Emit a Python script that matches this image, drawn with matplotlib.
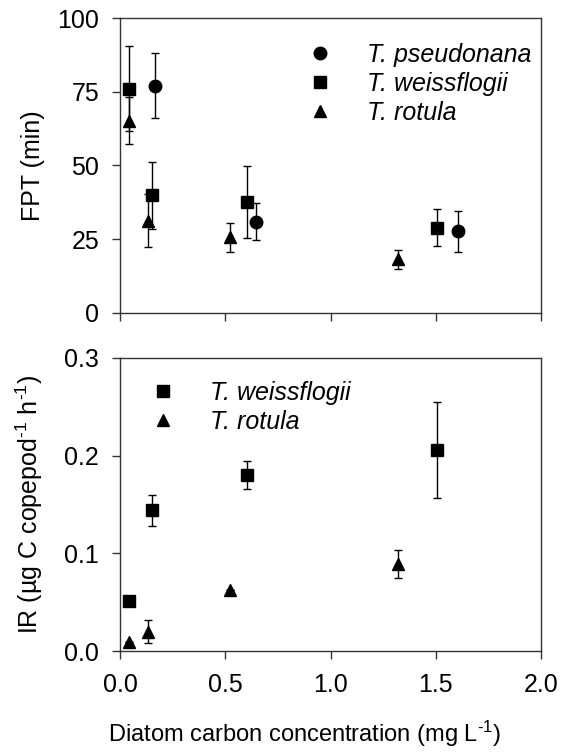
import matplotlib
matplotlib.use("Agg")
import matplotlib.pyplot as plt

plt.rcParams['font.family'] = ['Liberation Sans', 'DejaVu Sans']
plt.rcParams['mathtext.default'] = 'regular'

# --- FPT panel (top) ---
tp_x = [0.165, 0.648, 1.604]
tp_fpt = [77.1, 30.9, 27.6]
tp_fpt_err = [11.0, 6.2, 7.1]

tw_x = [0.043, 0.154, 0.605, 1.504]
tw_fpt = [76.0, 39.9, 37.5, 28.9]
tw_fpt_err = [14.4, 11.4, 12.2, 6.2]

tr_x = [0.043, 0.131, 0.524, 1.319]
tr_fpt = [65.2, 31.3, 25.6, 18.1]
tr_fpt_err = [8.0, 9.0, 4.8, 3.3]

# --- IR panel (bottom) ---
tw_ir = [0.051, 0.144, 0.1805, 0.206]
tw_ir_err = [0.0, 0.016, 0.0145, 0.049]
tr_ir = [0.0096, 0.020, 0.063, 0.089]
tr_ir_err = [0.0, 0.012, 0.0, 0.0145]

x_ticks = [0.0, 0.5, 1.0, 1.5, 2.0]
fpt_ticks = [0, 25, 50, 75, 100]
ir_ticks = [0.0, 0.1, 0.2, 0.3]

FS = 18
MS = 9
spine_col = '#333333'
HY = '\u2010'  # short hyphen used in the superscripts

fig = plt.figure(figsize=(5.66, 7.52), dpi=100)
ax1 = fig.add_axes([0.212, 0.584, 0.744, 0.392])
ax2 = fig.add_axes([0.212, 0.134, 0.744, 0.390])


def style_axes(ax):
    for s in ax.spines.values():
        s.set_color(spine_col)
        s.set_linewidth(1.0)
    ax.tick_params(direction='out', length=6, width=1, color=spine_col,
                   labelsize=FS, top=False, right=False)
    ax.tick_params(axis='x', pad=10)
    ax.tick_params(axis='y', pad=9)
    ax.set_xlim(0, 2.0)
    ax.set_xticks(x_ticks)


def series(ax, x, y, err, marker, label):
    ax.errorbar(x, y, yerr=err, fmt='none', ecolor='black', elinewidth=1,
                capsize=3, capthick=1, zorder=2)
    ax.plot(x, y, linestyle='none', marker=marker, color='black',
            markersize=MS, label=label, zorder=3)


series(ax1, tp_x, tp_fpt, tp_fpt_err, 'o', 'T. pseudonana')
series(ax1, tw_x, tw_fpt, tw_fpt_err, 's', 'T. weissflogii')
series(ax1, tr_x, tr_fpt, tr_fpt_err, '^', 'T. rotula')

style_axes(ax1)
ax1.set_ylim(0, 100)
ax1.set_yticks(fpt_ticks)
ax1.set_xticklabels([])
ax1.set_ylabel('FPT (min)', fontsize=FS)
ax1.yaxis.set_label_coords(-0.178, 0.5)
ax1.legend(loc='upper left', bbox_to_anchor=(0.446, 0.915), frameon=False,
           prop={'style': 'italic', 'size': FS},
           handlelength=1, handletextpad=1.38, labelspacing=0.2,
           borderpad=0, borderaxespad=0, numpoints=1)

series(ax2, tw_x, tw_ir, tw_ir_err, 's', 'T. weissflogii')
series(ax2, tr_x, tr_ir, tr_ir_err, '^', 'T. rotula')

style_axes(ax2)
ax2.set_ylim(0, 0.3)
ax2.set_yticks(ir_ticks)
ax2.set_yticklabels([f'{v:.1f}' for v in ir_ticks])
ax2.set_xticklabels([f'{v:.1f}' for v in x_ticks])
ax2.set_ylabel('IR (µg C copepod$^{' + HY + '1}$ h$^{' + HY + '1}$)', fontsize=FS)
ax2.yaxis.set_label_coords(-0.178, 0.5)
ax2.set_xlabel('Diatom carbon concentration (mg L$^{' + HY + '1}$)', fontsize=17)
ax2.xaxis.set_label_coords(0.439, -0.232)
ax2.legend(loc='upper left', bbox_to_anchor=(0.0725, 0.923), frameon=False,
           prop={'style': 'italic', 'size': FS},
           handlelength=1, handletextpad=1.38, labelspacing=0.2,
           borderpad=0, borderaxespad=0, numpoints=1)

fig.savefig('out.png', dpi=100)
